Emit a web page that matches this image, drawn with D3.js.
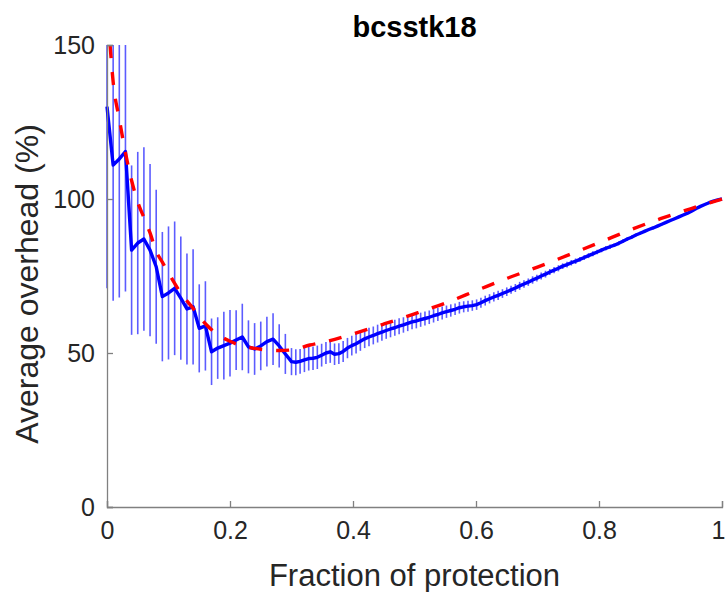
<!DOCTYPE html>
<html>
<head>
<meta charset="utf-8">
<script src="https://cdn.jsdelivr.net/npm/d3@7"></script>
<style>
  body { margin: 0; background: #fff; }
  text { font-family: "Liberation Sans", Arial, sans-serif; fill: #262626; }
</style>
</head>
<body>
<div id="chart"></div>
<script>
// fraction of protection, coarse part then fine part
var xCoarse = [0, 0.01, 0.02, 0.03, 0.04, 0.05, 0.06, 0.07, 0.08, 0.09,
  0.10, 0.11, 0.12, 0.13, 0.14, 0.15, 0.16, 0.17, 0.18, 0.19,
  0.20, 0.21, 0.22, 0.23, 0.24, 0.25, 0.26, 0.27, 0.28, 0.29, 0.30];
var meanCoarse = [130, 111, 113, 115.4, 83.4, 85.7, 87, 83.4, 78, 68.3,
  69.5, 71, 67.8, 64.3, 65, 58, 58.8, 50.4, 51.6, 52.4,
  53.2, 54.2, 55.2, 52, 51.3, 52.3, 53.7, 54.5, 52.3, 49.7, 47.2];
var errCoarse = [59, 44, 45, 45.4, 27.5, 29.6, 29.8, 28, 25, 21,
  21.6, 21.7, 20, 18, 18.7, 14.3, 14.5, 10.8, 10, 11,
  10.8, 9.7, 10.8, 8.6, 8.4, 7.9, 8.1, 8.4, 7, 6.5, 4.4];

var xFine = [0.307, 0.314, 0.321, 0.328, 0.335, 0.342, 0.349, 0.356, 0.363, 0.370,
  0.377, 0.384, 0.391, 0.398, 0.405, 0.412, 0.419, 0.426, 0.433, 0.440,
  0.447, 0.454, 0.461, 0.468, 0.475, 0.482, 0.489, 0.496, 0.503, 0.510,
  0.517, 0.524, 0.531, 0.538, 0.545, 0.552, 0.559, 0.566, 0.573, 0.580,
  0.587, 0.594, 0.601, 0.608, 0.615, 0.622, 0.629, 0.636, 0.643, 0.650,
  0.657, 0.664, 0.671, 0.678, 0.685, 0.692, 0.699, 0.706, 0.713, 0.720,
  0.727, 0.734, 0.741, 0.748, 0.755, 0.762, 0.769, 0.776, 0.783, 0.790,
  0.797, 0.804, 0.811, 0.818, 0.825, 0.832, 0.839, 0.846, 0.853, 0.860,
  0.867, 0.874, 0.881, 0.888, 0.895, 0.902, 0.909, 0.916, 0.923, 0.930,
  0.937, 0.944, 0.951, 0.958, 0.965, 0.972, 0.979, 0.986, 0.993, 1.000];
var meanFine = [47.0, 47.3, 47.8, 48.2, 48.3, 48.6, 49.3, 50.0, 50.4, 49.6,
  49.8, 50.5, 51.6, 52.4, 53.0, 53.8, 54.6, 55.2, 55.7, 56.3,
  56.8, 57.3, 57.8, 58.2, 58.7, 59.1, 59.6, 60.1, 60.4, 60.8,
  61.2, 61.6, 62.1, 62.5, 63.0, 63.4, 63.8, 64.2, 64.7, 65.0,
  65.2, 65.4, 65.7, 66.3, 67.0, 67.6, 68.2, 68.7, 69.3, 69.9,
  70.5, 71.1, 71.8, 72.4, 73.0, 73.7, 74.3, 75.0, 75.6, 76.3,
  76.9, 77.5, 78.2, 78.7, 79.3, 79.8, 80.4, 81.0, 81.6, 82.2,
  82.8, 83.4, 84.0, 84.5, 85.0, 85.6, 86.3, 87.0, 87.6, 88.3,
  88.9, 89.5, 90.1, 90.6, 91.2, 91.8, 92.4, 93.0, 93.6, 94.2,
  94.8, 95.4, 96.1, 96.9, 97.6, 98.2, 98.8, 99.3, 99.7, 100.0];
var errFine = [4.2, 4.0, 4.0, 3.9, 3.8, 3.8, 3.7, 3.6, 3.6, 3.5,
  3.4, 3.4, 3.3, 3.2, 3.2, 3.1, 3.0, 3.0, 2.9, 2.9,
  2.8, 2.7, 2.7, 2.6, 2.6, 2.5, 2.5, 2.4, 2.4, 2.3,
  2.3, 2.2, 2.2, 2.1, 2.1, 2.0, 2.0, 1.9, 1.9, 1.8,
  1.8, 1.7, 1.7, 1.6, 1.6, 1.5, 1.5, 1.5, 1.4, 1.4,
  1.3, 1.3, 1.3, 1.2, 1.2, 1.2, 1.1, 1.1, 1.1, 1.0,
  1.0, 1.0, 0.9, 0.9, 0.9, 0.9, 0.8, 0.8, 0.8, 0.8,
  0.7, 0.7, 0.7, 0.7, 0.6, 0.6, 0.6, 0.6, 0.6, 0.5,
  0.5, 0.5, 0.5, 0.5, 0.4, 0.4, 0.4, 0.4, 0.4, 0.4,
  0.3, 0.3, 0.3, 0.3, 0.3, 0.2, 0.2, 0.2, 0.1, 0.0];

// red dashed reference curve
var xModel = [0.005, 0.01, 0.02, 0.03, 0.04, 0.05, 0.06, 0.07, 0.08, 0.09,
  0.10, 0.12, 0.14, 0.16, 0.18, 0.20, 0.22, 0.24, 0.26, 0.28,
  0.30, 0.33, 0.36, 0.40, 0.45, 0.50, 0.55, 0.60, 0.65, 0.70,
  0.75, 0.80, 0.85, 0.90, 0.95, 1.00];
var yModel = [150, 138, 126, 115, 106, 99, 94, 89, 83, 79.5,
  76, 69.5, 64.5, 59.5, 56, 53.8, 52.3, 51.5, 51, 50.8,
  51, 52.6, 53.9, 56.2, 59.4, 62.7, 66.2, 70.2, 74.2, 77.9,
  81.8, 85.8, 89.9, 93.6, 96.9, 100];

var xTicks = [0, 0.2, 0.4, 0.6, 0.8, 1];
var yTicks = [0, 50, 100, 150];

var margin = {top: 45, right: 3, bottom: 85, left: 107},
    width = 725 - margin.left - margin.right,
    height = 592 - margin.top - margin.bottom;

var svg = d3.select("#chart").append("svg")
    .attr("width", 725)
    .attr("height", 592)
  .append("g")
    .attr("transform", "translate(" + margin.left + "," + margin.top + ")");

var x = d3.scaleLinear().domain([0, 1]).range([0, width]);
var y = d3.scaleLinear().domain([0, 150]).range([height, 0]);

svg.append("clipPath").attr("id", "clip")
  .append("rect").attr("x", -2).attr("y", 0).attr("width", width + 4).attr("height", height);

var pts = [];
for (var i = 0; i < xCoarse.length; i++) pts.push({x: xCoarse[i], m: meanCoarse[i], e: errCoarse[i]});
for (var i = 0; i < xFine.length; i++) pts.push({x: xFine[i], m: meanFine[i], e: errFine[i]});

var plot = svg.append("g").attr("clip-path", "url(#clip)");

plot.selectAll(".bar")
    .data(pts)
  .enter().append("line")
    .attr("class", "bar")
    .attr("x1", function(d) { return x(d.x); })
    .attr("x2", function(d) { return x(d.x); })
    .attr("y1", function(d) { return y(d.m - d.e); })
    .attr("y2", function(d) { return y(d.m + d.e); })
    .attr("stroke", "#5c5cff")
    .attr("stroke-width", 1.6);

var line = d3.line()
    .x(function(d) { return x(d.x); })
    .y(function(d) { return y(d.m); });

plot.append("path")
    .datum(pts)
    .attr("d", line)
    .attr("fill", "none")
    .attr("stroke", "#0000ff")
    .attr("stroke-width", 3.4)
    .attr("stroke-linejoin", "round");

var model = xModel.map(function(v, i) { return {x: v, m: yModel[i]}; });
plot.append("path")
    .datum(model)
    .attr("d", line.curve(d3.curveMonotoneX))
    .attr("fill", "none")
    .attr("stroke", "#ff0000")
    .attr("stroke-width", 3.4)
    .attr("stroke-dasharray", "13,14");

// axes, matlab style: ticks pointing inward
var xAxis = svg.append("g")
    .attr("transform", "translate(0," + height + ")")
    .call(d3.axisBottom(x).tickValues(xTicks).tickSize(-6).tickPadding(14)
      .tickFormat(function(d) { return d; }));
var yAxis = svg.append("g")
    .call(d3.axisLeft(y).tickValues(yTicks).tickSize(-6).tickPadding(12));

svg.selectAll(".domain").attr("stroke", "#808080").attr("stroke-width", 1.3);
svg.selectAll(".tick line").attr("stroke", "#808080").attr("stroke-width", 1.3);
svg.selectAll(".tick text")
    .style("font-size", "25px")
    .style("font-family", "Liberation Sans, Arial, sans-serif")
    .attr("fill", "#262626");
xAxis.selectAll(".tick text").filter(function(d) { return d === 1; }).attr("dx", -4);

svg.append("text")
    .attr("x", width / 2)
    .attr("y", -8)
    .attr("text-anchor", "middle")
    .style("font-size", "29px")
    .style("font-weight", "bold")
    .style("fill", "#000")
    .text("bcsstk18");

svg.append("text")
    .attr("x", width / 2)
    .attr("y", height + 79)
    .attr("text-anchor", "middle")
    .style("font-size", "31px")
    .text("Fraction of protection");

svg.append("text")
    .attr("transform", "translate(" + (-69) + "," + (height / 2 + 8) + ") rotate(-90)")
    .attr("text-anchor", "middle")
    .style("font-size", "32px")
    .text("Average overhead (%)");
</script>
</body>
</html>
